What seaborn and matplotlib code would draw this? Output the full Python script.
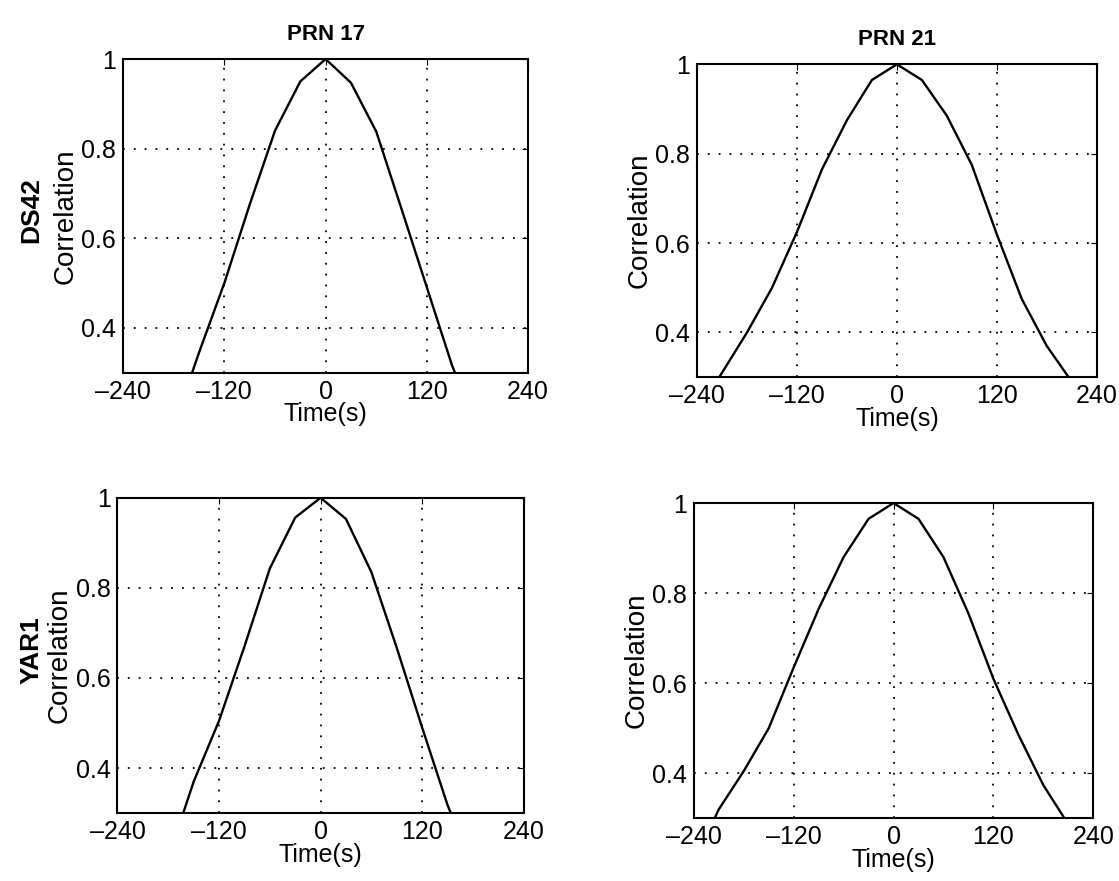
import numpy as np
import pandas as pd
import matplotlib
matplotlib.use("Agg")
import matplotlib.pyplot as plt
import seaborn as sns

# ---- data ----
time_s = [-240, -210, -180, -150, -120, -90, -60, -30, 0, 30, 60, 90, 120, 150, 180, 210, 240]

prn17_ds42 = [0.05, 0.10, 0.18, 0.345, 0.50, 0.675, 0.84, 0.95, 1.0, 0.947, 0.838, 0.665, 0.49, 0.315, 0.18, 0.10, 0.05]
prn21_ds42 = [0.22, 0.31, 0.40, 0.50, 0.625, 0.765, 0.875, 0.965, 1.0, 0.965, 0.885, 0.775, 0.62, 0.475, 0.37, 0.29, 0.20]
prn17_yar1 = [0.05, 0.10, 0.20, 0.37, 0.505, 0.67, 0.843, 0.956, 1.0, 0.953, 0.835, 0.667, 0.49, 0.318, 0.18, 0.10, 0.05]
prn21_yar1 = [0.20, 0.32, 0.405, 0.50, 0.635, 0.765, 0.88, 0.965, 1.0, 0.965, 0.88, 0.755, 0.61, 0.486, 0.374, 0.287, 0.20]

col_titles = ["PRN 17", "PRN 21"]
row_labels = ["DS42", "YAR1"]
x_ticks = [-240, -120, 0, 120, 240]
x_tick_labels = ["\u2013240", "\u2013120", "0", "120", "240"]
y_ticks = [0.4, 0.6, 0.8, 1.0]
y_tick_labels = ["0.4", "0.6", "0.8", "1"]

panels = {
    (0, 0): prn17_ds42,
    (0, 1): prn21_ds42,
    (1, 0): prn17_yar1,
    (1, 1): prn21_yar1,
}

sns.set_style("white")
plt.rcParams["font.family"] = ["Liberation Sans", "DejaVu Sans"]
plt.rcParams["text.color"] = "black"
plt.rcParams["axes.labelcolor"] = "black"

fig = plt.figure(figsize=(11.19, 8.81), dpi=100)

# axes positions [left, bottom, width, height] in figure fraction
positions = {
    (0, 0): [0.110, 0.577, 0.362, 0.356],
    (0, 1): [0.623, 0.572, 0.357, 0.355],
    (1, 0): [0.105, 0.077, 0.363, 0.358],
    (1, 1): [0.620, 0.071, 0.357, 0.358],
}

for (r, c), vals in panels.items():
    ax = fig.add_axes(positions[(r, c)])
    df = pd.DataFrame({"t": time_s, "corr": vals})
    sns.lineplot(data=df, x="t", y="corr", ax=ax, color="black", linewidth=1.7)
    ax.set_xlim(-240, 240)
    ax.set_ylim(0.3, 1.0)
    ax.set_xticks(x_ticks)
    ax.set_xticklabels(x_tick_labels)
    ax.set_yticks(y_ticks)
    ax.set_yticklabels(y_tick_labels)
    ax.tick_params(direction="in", length=4, labelsize=18, colors="black",
                   top=True, right=True, pad=5)
    ax.grid(True, linestyle=(0, (1, 5)), color="black", linewidth=1.3)
    for s in ax.spines.values():
        s.set_color("black")
        s.set_linewidth(1.5)
    ax.set_xlabel("Time(s)", fontsize=18, labelpad=-1)
    ax.set_ylabel("Correlation", fontsize=20, labelpad=2)
    if r == 0:
        ax.set_title(col_titles[c], fontsize=16, fontweight="bold", pad=14)

# bold row labels
fig.text(0.028, 0.762, row_labels[0], rotation=90, fontsize=19, fontweight="bold",
         ha="center", va="center")
fig.text(0.028, 0.262, row_labels[1], rotation=90, fontsize=19, fontweight="bold",
         ha="center", va="center")

fig.savefig("out.png", dpi=100, facecolor="white")
